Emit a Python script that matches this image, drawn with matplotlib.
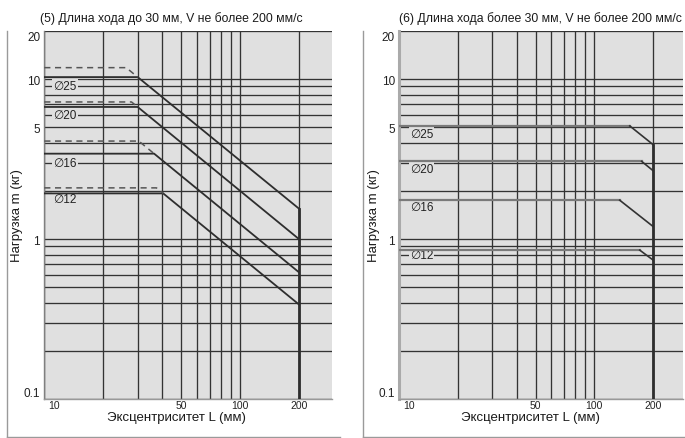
import matplotlib
matplotlib.use('Agg')
import numpy as np
import matplotlib.pyplot as plt
import matplotlib.transforms as mtransforms
from matplotlib import font_manager
from matplotlib.lines import Line2D
from matplotlib.ticker import FixedLocator, LogLocator, NullFormatter


def find_font():
    # prefer a narrow grotesque, fall back to regular sans
    names = {f.name for f in font_manager.fontManager.ttflist}
    for cand in ["Liberation Sans Narrow", "Liberation Sans", "Arial"]:
        if cand in names:
            return cand
    return "DejaVu Sans"


# --- data -------------------------------------------------------------
bores = ["∅25", "∅20", "∅16", "∅12"]

# (5) stroke up to 30 mm
short_flat = [10.3, 6.7, 3.42, 1.93]      # allowed load, plateau (kg)
short_knee = [30.0, 30.0, 36.4, 40.5]     # eccentricity where plateau ends (mm)
short_end = [1.55, 1.0, 0.62, 0.39]       # load at L = 200 mm
short_dash = [11.8, 7.2, 4.1, 2.09]       # dashed plateau (kg)
short_dash_end = [26.2, 27.9, 30.4, 37.4] # where dashed plateau bends
short_label_y = [9.0, 6.0, 3.0, 1.78]

# (6) stroke over 30 mm
long_flat = [5.1, 3.06, 1.75, 0.853]
long_knee = [152.0, 175.0, 135.0, 171.0]
long_end = [3.9, 2.68, 1.2, 0.74]
long_label_y = [4.57, 2.76, 1.59, 0.8]

L_start = 10
L_max = 200

x_ticks = [10, 50, 100, 200]
x_ticklabels = ["10", "50", "100", "200"]
y_ticks = [0.1, 1, 5, 10, 20]
y_ticklabels = ["0.1", "1", "5", "10", "20"]

titles = ["(5) Длина хода до 30 мм, V не более 200 мм/с",
          "(6) Длина хода более 30 мм, V не более 200 мм/с"]
xlabel = "Эксцентриситет L (мм)"
ylabel = "Нагрузка m (кг)"

BG = "#e0e0e0"
GRID = "#333333"
INK = "#1a1a1a"

font = find_font()
plt.rcParams["font.family"] = [font, "DejaVu Sans"]

W, H = 685, 439
fig = plt.figure(figsize=(W / 100, H / 100), dpi=100)


def px_axes(x0, x1, y0, y1):
    return fig.add_axes([x0 / W, 1 - y1 / H, (x1 - x0) / W, (y1 - y0) / H])


def setup(ax, xmax, spine_color, spine_w):
    ax.set_xscale("log")
    ax.set_yscale("log")
    ax.set_xlim(10, xmax)
    ax.set_ylim(0.1, 20)
    ax.set_facecolor(BG)
    ax.xaxis.set_major_locator(FixedLocator(x_ticks))
    ax.yaxis.set_major_locator(FixedLocator(y_ticks))
    ax.xaxis.set_minor_locator(LogLocator(base=10, subs=np.arange(2, 10)))
    ax.yaxis.set_minor_locator(LogLocator(base=10, subs=np.arange(2, 10)))
    ax.xaxis.set_minor_formatter(NullFormatter())
    ax.yaxis.set_minor_formatter(NullFormatter())
    ax.set_xticklabels(x_ticklabels)
    ax.set_yticklabels(y_ticklabels)
    ax.tick_params(which="both", length=0, colors="#222222")
    ax.tick_params(axis="x", pad=1, labelsize=7.5)
    ax.tick_params(axis="y", pad=3, labelsize=8.5)
    ax.grid(which="both", color=GRID, linewidth=0.95)
    ax.set_axisbelow(True)
    for s in ["top", "right"]:
        ax.spines[s].set_visible(False)
    ax.spines["left"].set_color(spine_color)
    ax.spines["left"].set_linewidth(spine_w)
    ax.spines["bottom"].set_color("#999999")
    ax.spines["bottom"].set_linewidth(1.0)

    # nudge the corner labels so they do not collide
    xl = ax.get_xticklabels()
    xl[0].set_transform(xl[0].get_transform() +
                        mtransforms.ScaledTranslation(0.10, 0, fig.dpi_scale_trans))
    yl = ax.get_yticklabels()
    yl[0].set_verticalalignment("bottom")
    yl[-1].set_verticalalignment("top")


def bore_label(ax, x, y, text):
    # drawn under the curves but over the grid, so grid lines break around it
    ax.text(x, y, text, fontsize=8.5, color="#222222", ha="left", va="center",
            zorder=2, bbox=dict(facecolor=BG, edgecolor="none", pad=0.8))


# --- panel (5) --------------------------------------------------------
ax1 = px_axes(44.3, 332, 32, 400)
setup(ax1, 295, "#808080", 1.0)
for i, name in enumerate(bores):
    ax1.plot([L_start, short_knee[i], L_max], [short_flat[i], short_flat[i], short_end[i]],
             color="#2e2e2e", linewidth=1.3, solid_joinstyle="miter", zorder=3)
    ax1.plot([L_start, short_dash_end[i], short_knee[i]],
             [short_dash[i], short_dash[i], short_flat[i]],
             color="#555555", linewidth=1.1, dashes=(4, 3), zorder=3)
    bore_label(ax1, 11.1, short_label_y[i], name)
ax1.plot([L_max, L_max], [0.1, max(short_end)], color="#2e2e2e", linewidth=2.0,
         zorder=3)

# --- panel (6) --------------------------------------------------------
ax2 = px_axes(399.2, 683, 32, 400)
setup(ax2, 285, "#aaaaaa", 2.2)
for i, name in enumerate(bores):
    ax2.plot([L_start, long_knee[i]], [long_flat[i], long_flat[i]],
             color="#7a7a7a", linewidth=1.6, zorder=3)
    ax2.plot([long_knee[i], L_max], [long_flat[i], long_end[i]],
             color="#333333", linewidth=1.2, zorder=3)
    bore_label(ax2, 11.35, long_label_y[i], name)
ax2.plot([L_max, L_max], [0.1, max(long_end)], color="#2e2e2e", linewidth=2.0,
         zorder=3)

# --- titles, axis labels, panel frames --------------------------------
fig.text(40 / W, 1 - 19 / H, titles[0], fontsize=8.8, ha="left", va="center", color=INK)
fig.text(399 / W, 1 - 19 / H, titles[1], fontsize=8.8, ha="left", va="center", color=INK)
fig.text(176 / W, 1 - 418 / H, xlabel, fontsize=9.5, ha="center", va="center", color=INK)
fig.text(530 / W, 1 - 418 / H, xlabel, fontsize=9.5, ha="center", va="center", color=INK)
fig.text(17.5 / W, 1 - 216 / H, ylabel, fontsize=9.5, rotation=90, ha="center", va="center", color=INK)
fig.text(374 / W, 1 - 216 / H, ylabel, fontsize=9.5, rotation=90, ha="center", va="center", color=INK)

for x0, x1 in [(7, 340), (362.5, 685)]:
    fig.add_artist(Line2D([x0 / W, x0 / W], [1 - 32 / H, 1 - 437.5 / H],
                          transform=fig.transFigure, color="#9a9a9a", linewidth=1.0))
    fig.add_artist(Line2D([x0 / W, x1 / W], [1 - 437.5 / H, 1 - 437.5 / H],
                          transform=fig.transFigure, color="#9a9a9a", linewidth=1.0))

fig.savefig("out.png", dpi=100)
